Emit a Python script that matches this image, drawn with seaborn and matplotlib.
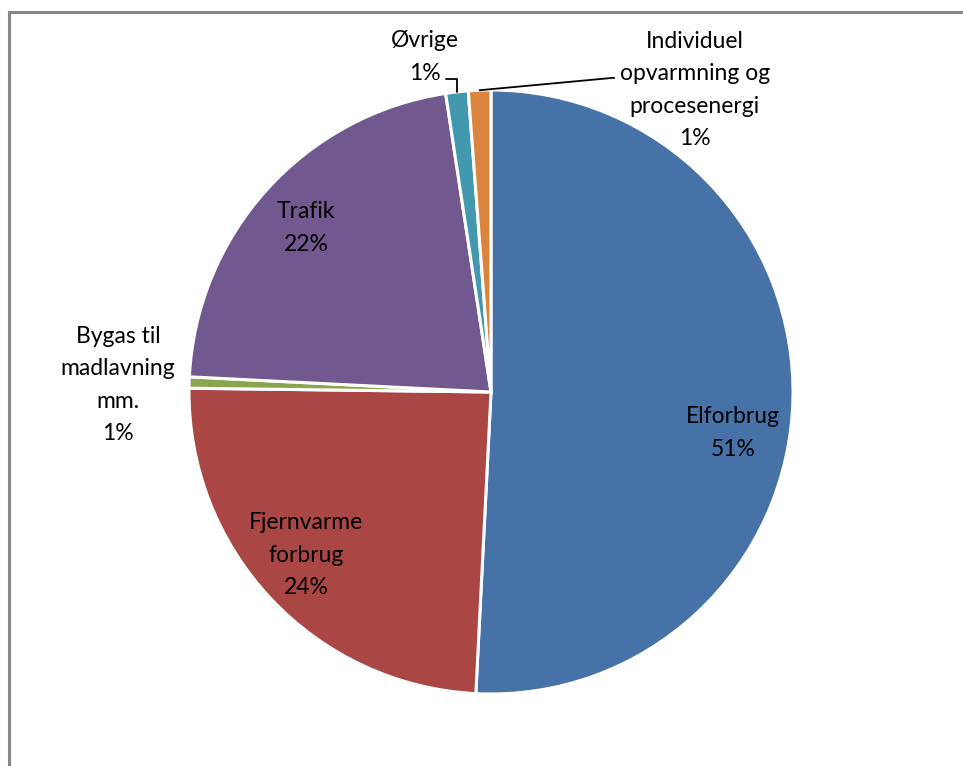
import numpy as np
import seaborn as sns
import matplotlib.pyplot as plt
from matplotlib.patches import Rectangle

# Data (percent of total)
labels = ["Elforbrug", "Fjernvarme\nforbrug", "Bygas til\nmadlavning\nmm.", "Trafik",
          "Øvrige", "Individuel\nopvarmning og\nprocesenergi"]
shares = [50.8, 24.4, 0.6, 21.8, 1.2, 1.2]
pct_text = ["51%", "24%", "1%", "22%", "1%", "1%"]
colors = ["#4672A8", "#AA4644", "#89A54E", "#71588F", "#4298AF", "#DB843D"]

# label anchor positions (pie radius = 1)
label_pos = [(0.801, -0.136), (-0.613, -0.540), (-1.235, 0.023), (-0.613, 0.543),
             (-0.219, 1.109), (0.675, 1.000)]

sns.set_theme(style="white")
plt.rcParams['font.family'] = ['Lato', 'DejaVu Sans']

fig = plt.figure(figsize=(9.63, 7.66), dpi=100)
fig.patch.set_facecolor("white")

# chart frame (runs off right and bottom edges)
fig.patches.append(Rectangle((8.5 / 963, -0.05), 1.2, 1 - 12 / 766 + 0.05,
                             transform=fig.transFigure, fill=False,
                             edgecolor="#868686", linewidth=2.2))

ax = fig.add_axes([(491 - 302) / 963, (766 - 694) / 766, 604 / 963, 604 / 766])
wedges, _ = ax.pie(shares, colors=colors, startangle=90, counterclock=False,
                   radius=1.0, wedgeprops=dict(edgecolor="white", linewidth=2.2))
ax.set_xlim(-1, 1)
ax.set_ylim(-1, 1)
ax.set_aspect("equal")
ax.axis("off")

for i, w in enumerate(wedges):
    x, y = label_pos[i]
    ax.text(x, y, labels[i] + "\n" + pct_text[i], ha="center", va="center",
            fontsize=16.5, color="black", linespacing=1.66, clip_on=False)

# leader lines for the two small slices
def edge_point(w):
    mid = np.deg2rad((w.theta1 + w.theta2) / 2)
    return np.cos(mid), np.sin(mid)

ex, ey = edge_point(wedges[4])
ax.plot([-0.149, ex, ex], [1.037, 1.037, ey], color="black", lw=1.3, clip_on=False)
ex, ey = edge_point(wedges[5])
ax.plot([ex, 0.401, 0.408], [ey, 1.040, 1.040], color="black", lw=1.3, clip_on=False)

fig.savefig("out.png", dpi=100, facecolor="white")
